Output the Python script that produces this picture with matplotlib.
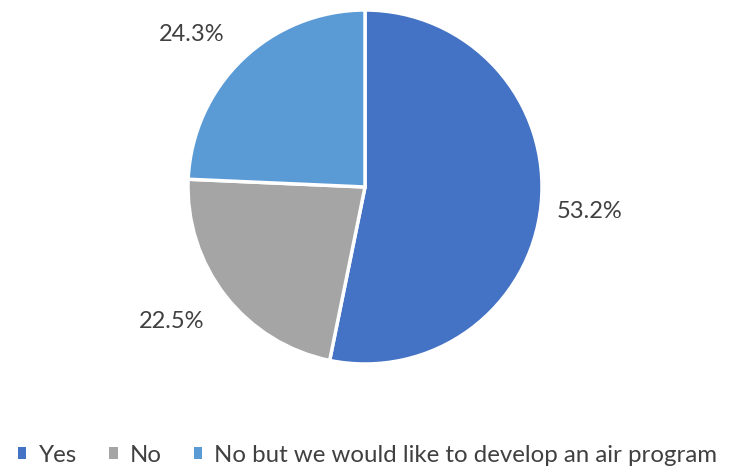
import matplotlib
matplotlib.use("Agg")
import matplotlib.pyplot as plt

# data
labels = ["Yes", "No", "No but we would like to develop an air program"]
shares = [53.2, 22.5, 24.3]
colors = ["#4472C4", "#A5A5A5", "#5B9BD5"]

# where the percentage labels sit (in pie radius units)
label_xy = [(1.27, -0.14), (-1.09, -0.76), (-0.98, 0.86)]

plt.rcParams['font.family'] = ['Lato', 'DejaVu Sans']

fig = plt.figure(figsize=(7.33, 4.67), dpi=100)
W, H = 733, 467
cx, cy, r = 365, 187, 177
ax = fig.add_axes([(cx - r) / W, (H - cy - r) / H, 2 * r / W, 2 * r / H])

wedges, texts, autotexts = ax.pie(
    shares, colors=colors, startangle=90, counterclock=False,
    autopct="%.1f%%", pctdistance=1.3,
    wedgeprops=dict(edgecolor="white", linewidth=2.5),
    textprops=dict(fontsize=17, color="#404040"))
for t, xy in zip(autotexts, label_xy):
    t.set_position(xy)
ax.set_xlim(-1, 1)
ax.set_ylim(-1, 1)
ax.set_aspect("equal")

leg = fig.legend(wedges, labels, loc="center left", bbox_to_anchor=(18 / W, (H - 455) / H),
                 ncol=3, frameon=False, fontsize=17.3, handlelength=0.35, handleheight=0.35,
                 handletextpad=0.5, columnspacing=1.35, labelcolor="#404040",
                 borderaxespad=0, borderpad=0)
for h in leg.legend_handles:
    h.set_edgecolor("none")

fig.savefig("out.png", dpi=100)
